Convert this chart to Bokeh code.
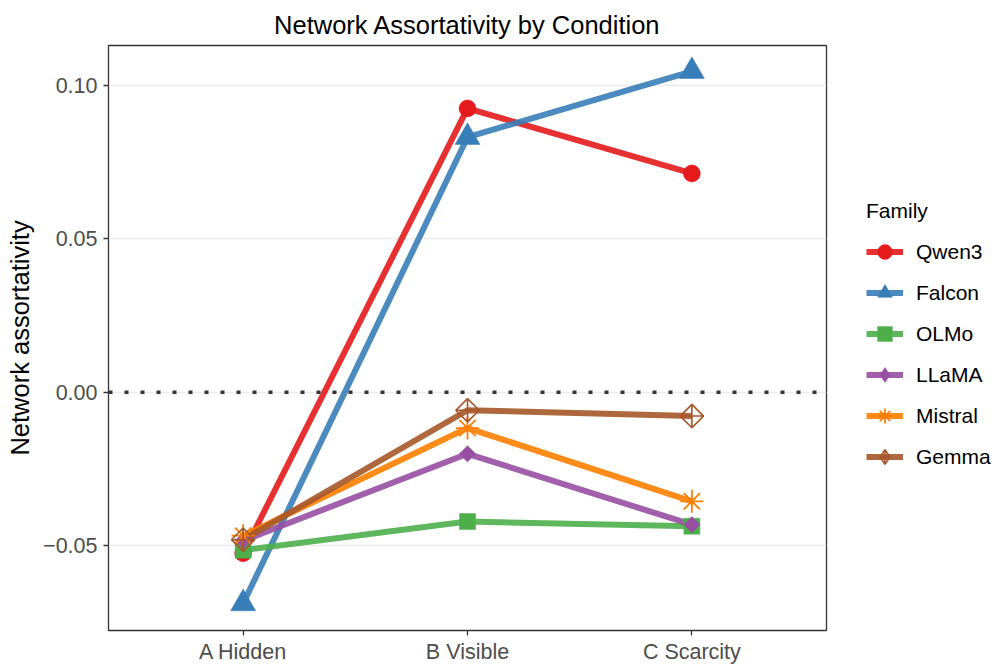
import math
from bokeh.plotting import figure
from bokeh.models import (FactorRange, Range1d, FixedTicker, Span, Legend,
                          LegendItem, ColumnDataSource)
from bokeh.embed import file_html
from bokeh.resources import INLINE

# ---- data ----
conditions = ["A Hidden", "B Visible", "C Scarcity"]
families = ["Qwen3", "Falcon", "OLMo", "LLaMA", "Mistral", "Gemma"]
qwen3 = [-0.0525, 0.0925, 0.0713]
falcon = [-0.0689, 0.0831, 0.1046]
olmo = [-0.0515, -0.0422, -0.0437]
llama = [-0.0484, -0.0201, -0.0432]
mistral = [-0.0468, -0.0117, -0.0356]
gemma = [-0.0481, -0.0059, -0.0078]
y_ticks = [-0.05, 0.0, 0.05, 0.10]
y_tick_labels = ["\u22120.05", "0.00", "0.05", "0.10"]

colors = ["#E41A1C", "#377EB8", "#4DAF4A", "#984EA3", "#FF7F00", "#A65628"]

src = ColumnDataSource(data=dict(condition=conditions, Qwen3=qwen3, Falcon=falcon,
                                 OLMo=olmo, LLaMA=llama, Mistral=mistral, Gemma=gemma))

FONT = "Liberation Sans"

p = figure(frame_width=718, frame_height=585, output_backend="svg", toolbar_location=None,
           x_range=FactorRange(*conditions, range_padding=0.2 / 3),
           y_range=Range1d(-0.0777, 0.1130),
           min_border_left=108, min_border_right=0, min_border_top=45,
           min_border_bottom=36)
# a range used only by key-only glyphs, so they stay out of the panel
p.extra_y_ranges = {"key": Range1d(1, 2)}

p.title.text = "Network Assortativity by Condition"
p.title.align = "center"
p.title.text_font = FONT
p.title.text_font_size = "25.5px"
p.title.text_font_style = "normal"
p.title.text_color = "#000000"
p.title.standoff = 14

p.background_fill_color = "white"
p.border_fill_color = "white"
p.outline_line_color = "#333333"
p.outline_line_width = 1.3

p.xgrid.grid_line_color = None
p.ygrid.grid_line_color = "#EBEBEB"
p.ygrid.grid_line_width = 1.4
p.ygrid.ticker = FixedTicker(ticks=y_ticks)

p.yaxis.ticker = FixedTicker(ticks=y_ticks)
p.yaxis.major_label_overrides = {t: l for t, l in zip(y_ticks, y_tick_labels)}
p.yaxis.axis_label = "Network assortativity"
p.yaxis.axis_label_standoff = 6

for ax in (p.xaxis[0], p.yaxis[0]):
    ax.axis_line_color = None
    ax.major_tick_line_color = "#333333"
    ax.major_tick_line_width = 1.3
    ax.major_tick_out = 5
    ax.major_tick_in = 0
    ax.minor_tick_line_color = None
    ax.major_label_text_font = FONT
    ax.major_label_text_font_size = "21.5px"
    ax.major_label_text_color = "#4D4D4D"
    ax.axis_label_text_font = FONT
    ax.axis_label_text_font_size = "25.5px"
    ax.axis_label_text_font_style = "normal"
    ax.axis_label_text_color = "#000000"
p.yaxis.major_label_standoff = 6
p.xaxis.major_label_standoff = 4

line_rs = []
for fam, col in zip(families, colors):
    r = p.line("condition", fam, source=src, line_color=col, line_width=6,
               line_alpha=0.9)
    line_rs.append(r)

marker_specs = {
    "Qwen3": dict(marker="circle", size=17, fill_color=colors[0], line_color=colors[0], line_width=0.5),
    "Falcon": dict(marker="triangle", size=25, fill_color=colors[1], line_color=colors[1], line_width=0.5),
    "OLMo": dict(marker="square", size=16, fill_color=colors[2], line_color=colors[2], line_width=0.5),
    "LLaMA": dict(marker="square", size=11.5, angle=math.pi / 4, fill_color=colors[3], line_color=colors[3], line_width=0.5),
    "Mistral": dict(marker="asterisk", size=23, line_color=colors[4], line_width=1.8),
    "Gemma": dict(marker="square_x", size=16.5, angle=math.pi / 4, fill_color=None, line_color=colors[5], line_width=1.6),
}
legend_markers = {"LLaMA": "diamond", "Gemma": "diamond_cross"}

pt_rs = []
for fam in families:
    r = p.scatter("condition", fam, source=src, **marker_specs[fam])
    pt_rs.append(r)

zero = Span(location=0, dimension="width", line_color="#333333", line_width=3.5,
            line_dash="4 12")
p.add_layout(zero)

# key-only marker renderers (the key draws markers unrotated)
items = []
for fam, lr, pr in zip(families, line_rs, pt_rs):
    if fam in legend_markers:
        spec = dict(marker_specs[fam])
        spec.pop("angle", None)
        spec["marker"] = legend_markers[fam]
        pr = p.scatter("condition", fam, source=src, y_range_name="key", **spec)
    items.append(LegendItem(label=fam, renderers=[lr, pr]))

legend = Legend(items=items, title="Family", location=(38, 151),
                title_text_font=FONT, title_text_font_size="21px",
                title_text_font_style="normal", title_text_color="#000000",
                title_standoff=8,
                label_text_font=FONT, label_text_font_size="21px",
                label_text_color="#000000",
                glyph_width=37, glyph_height=41, label_height=41, spacing=0,
                padding=2, margin=0, label_standoff=13,
                background_fill_alpha=0, border_line_alpha=0)
p.add_layout(legend, "right")

open("out.html", "w").write(file_html(p, INLINE))
